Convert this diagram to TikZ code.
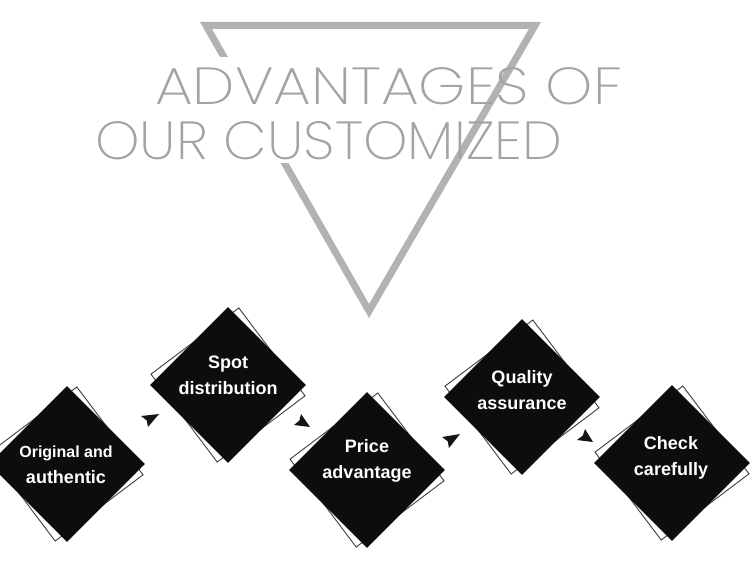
\documentclass[tikz,border=0pt]{standalone}
\usepackage{graphicx}
\usepackage{fontspec}
\setmainfont{Liberation Sans}
\newfontfamily\titlefont{Poppins ExtraLight}
\usetikzlibrary{calc}
\begin{document}
\begin{tikzpicture}[x=1pt,y=-1pt,
  outsq/.style={draw=black!75, line width=0.9pt, fill=white, minimum size=110pt, inner sep=0pt, rotate=37},
  blksq/.style={fill=black!95, minimum size=110pt, inner sep=0pt, rotate=45},
  lbl/.style={text=white, font=\bfseries\fontsize{18}{26}\selectfont, align=center, inner sep=0pt},
  ttl/.style={anchor=base west, inner sep=0pt, text=black!36},
  arr/.style={fill=black!92}]
\path[use as bounding box, fill=white] (0,0) rectangle (750,583);

% triangle
\coordinate (tA) at (206,25.5);
\coordinate (tB) at (535,25.5);
\coordinate (tC) at (369,311);
\draw[black!30, line width=7pt, line join=miter] (tA) -- (tB) -- (tC) -- cycle;
\fill[white] (195,57) rectangle (300,163);

% title
\node[ttl] (t1) at (155,105) {\resizebox{467pt}{37pt}{\titlefont ADVANTAGES OF}};
\node[ttl] (t2) at (95,160) {\resizebox{467pt}{38pt}{\titlefont OUR CUSTOMIZED}};

% diamonds
\node[outsq] (o1) at (66,464) {};
\node[blksq] (d1) at (67,464) {};
\node[lbl] (l1) at (66,465) {{\fontsize{16}{26}\selectfont Original and}\\authentic};

\node[outsq] (o2) at (228,385) {};
\node[blksq] (d2) at (228,385) {};
\node[lbl] (l2) at (228,375) {Spot\\distribution};

\node[outsq] (o3) at (367,470) {};
\node[blksq] (d3) at (367,470) {};
\node[lbl] (l3) at (367,461) {Price\\advantage};

\node[outsq] (o4) at (522,397) {};
\node[blksq] (d4) at (522,397) {};
\node[lbl] (l4) at (522,390) {Quality\\assurance};

\node[outsq] (o5) at (672,463) {};
\node[blksq] (d5) at (672,463) {};
\node[lbl] (l5) at (671,458) {Check\\carefully};

% arrowheads
\coordinate (a1t) at (159,414); \coordinate (a1b) at (141,416); \coordinate (a1c) at (148,427);
\fill[arr] (a1t) -- (a1b) -- ($(a1b)!0.5!(a1c)!0.15!(a1t)$) -- (a1c) -- cycle;
\coordinate (a2t) at (310,427); \coordinate (a2b) at (301,414); \coordinate (a2c) at (294,425);
\fill[arr] (a2t) -- (a2b) -- ($(a2b)!0.5!(a2c)!0.15!(a2t)$) -- (a2c) -- cycle;
\coordinate (a3t) at (460,434); \coordinate (a3b) at (442,437); \coordinate (a3c) at (449,448);
\fill[arr] (a3t) -- (a3b) -- ($(a3b)!0.5!(a3c)!0.15!(a3t)$) -- (a3c) -- cycle;
\coordinate (a4t) at (593,442); \coordinate (a4b) at (585,429); \coordinate (a4c) at (577,440);
\fill[arr] (a4t) -- (a4b) -- ($(a4b)!0.5!(a4c)!0.15!(a4t)$) -- (a4c) -- cycle;
\end{tikzpicture}
\end{document}
